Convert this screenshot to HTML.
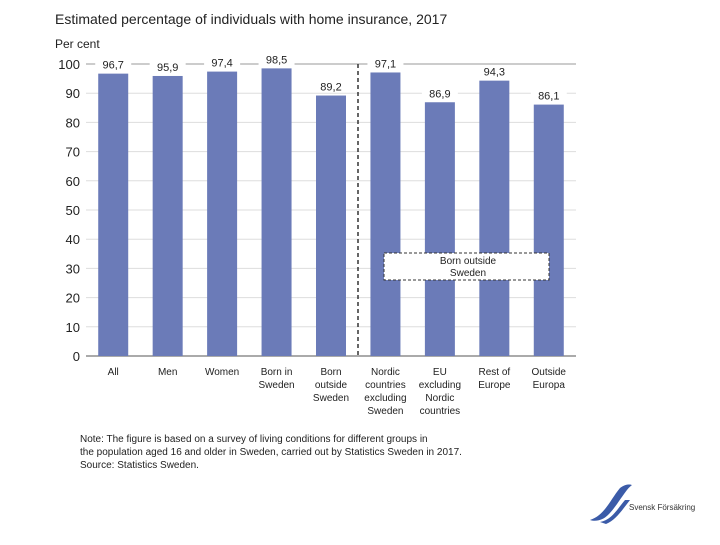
<!DOCTYPE html>
<html><head><meta charset="utf-8"><style>
body{margin:0;background:#fff;width:720px;height:540px;overflow:hidden;font-family:"Liberation Sans",sans-serif}
</style></head><body>
<svg width="720" height="540" style="font-family:'Liberation Sans',sans-serif">
<text x="55" y="24" font-size="14" fill="#222">Estimated percentage of individuals with home insurance, 2017</text>
<text x="55" y="48" font-size="12" fill="#222">Per cent</text>
<g id="grid"></g><g id="bars"></g><g id="labels"></g>
<line x1="358" y1="64" x2="358" y2="356" stroke="#333" stroke-width="1.5" stroke-dasharray="4,3"/>
<rect x="384" y="253" width="165" height="27" fill="#fff" stroke="#333" stroke-dasharray="3,2"/>
<text x="468" y="264" font-size="10" text-anchor="middle" fill="#222">Born outside</text>
<text x="468" y="276" font-size="10" text-anchor="middle" fill="#222">Sweden</text>
<g font-size="10" fill="#222">
<text x="80" y="442">Note: The figure is based on a survey of living conditions for different groups in</text>
<text x="80" y="455">the population aged 16 and older in Sweden, carried out by Statistics Sweden in 2017.</text>
<text x="80" y="468">Source: Statistics Sweden.</text></g>
<g>
<path d="M590 520 C605 515,610 500,620 488 C625 484,630 484,632 485 C625 490,618 505,608 515 C603 520,596 522,590 520Z" fill="#3b5ba8"/>
<path d="M600 522 C612 520,618 508,625 500 L630 500 C622 510,616 520,606 524Z" fill="#3b5ba8"/>
<text x="629" y="510" font-size="8" fill="#333">Svensk Försäkring</text></g>
</svg>
<script>
const categories=[["All"],["Men"],["Women"],["Born in","Sweden"],["Born","outside","Sweden"],["Nordic","countries","excluding","Sweden"],["EU","excluding","Nordic","countries"],["Rest of","Europe"],["Outside","Europa"]];
const values=[96.7,95.9,97.4,98.5,89.2,97.1,86.9,94.3,86.1];
const ticks=[0,10,20,30,40,50,60,70,80,90,100];
const NS="http://www.w3.org/2000/svg";
const L=86,R=576,Y0=356,Y1=64;
const y=v=>Y0-(v/100)*(Y0-Y1);
const slot=(R-L)/categories.length;
const x=i=>L+slot*(i+0.5);
function mk(t,a,p){const e=document.createElementNS(NS,t);for(const k in a)e.setAttribute(k,a[k]);p.appendChild(e);return e;}
const g=document.getElementById('grid'),b=document.getElementById('bars'),lb=document.getElementById('labels');
ticks.forEach(t=>{
 const ln=mk('line',{x1:L,x2:R,y1:y(t),y2:y(t),stroke:t===0?'#555':(t===100?'#999':'#ddd'),'stroke-width':1},g);
 
 
 const tx=mk('text',{x:80,y:y(t)+5,'text-anchor':'end','font-size':13,fill:'#222'},g);
 tx.textContent=t;
 
 
});
values.forEach((v,i)=>{
 const r=mk('rect',{x:x(i)-15,y:y(v),width:30,height:Y0-y(v),fill:'#6b7bb8'},b);
 
 
 const s=v.toFixed(1).replace('.',',');
 const bg=mk('rect',{x:x(i)-18,y:y(v)-16,width:36,height:13,fill:'#fff'},lb);
 
 
 const t=mk('text',{x:x(i),y:y(v)-5,'text-anchor':'middle','font-size':11,fill:'#222'},lb);
 t.textContent=s;
 
 
 categories[i].forEach((w,j)=>{
  const c=mk('text',{x:x(i),y:375+j*13,'text-anchor':'middle','font-size':10,fill:'#222'},lb);
  c.textContent=w;
  
  
 });
});
</script>
</body></html>
